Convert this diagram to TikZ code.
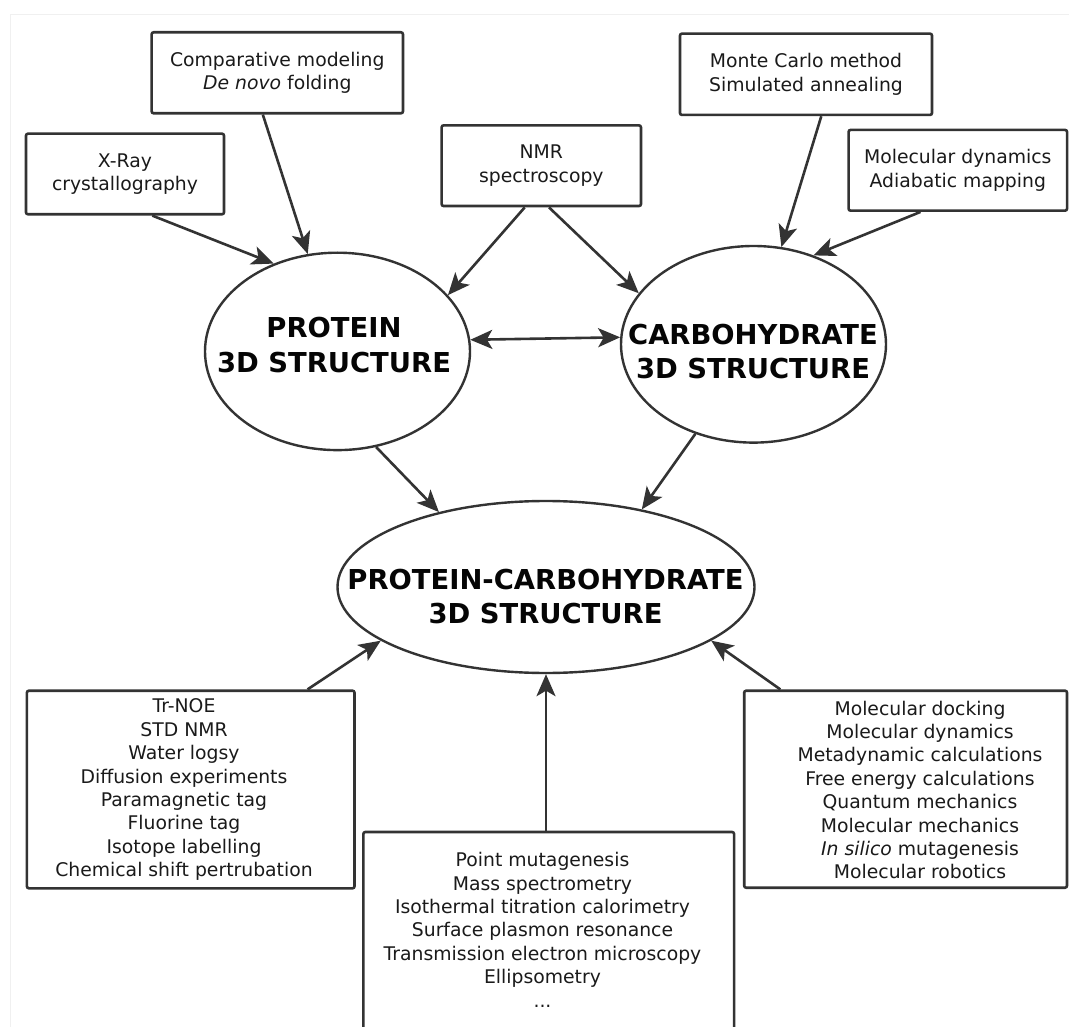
\documentclass[tikz,border=0pt]{standalone}
\usepackage{fontspec}
\setmainfont{DejaVu Sans}
\usetikzlibrary{arrows.meta,shapes.geometric,calc}
\definecolor{ln}{HTML}{333333}
\definecolor{tx}{HTML}{1A1A1A}
\definecolor{hdc}{HTML}{050505}
\definecolor{frm}{HTML}{F0F0F0}
\begin{document}
\begin{tikzpicture}[x=1pt,y=-1pt,
  box/.style={draw=ln, line width=2.6pt, rounded corners=2pt, inner sep=0pt, fill=white},
  txt/.style={text=tx, font=\fontsize{18.8}{23.4}\selectfont, align=center, inner sep=0pt},
  head/.style={text=hdc, font=\bfseries\fontsize{27.4}{34.2}\selectfont, align=center, inner sep=0pt},
  ell/.style={draw=ln, line width=2.4pt, ellipse, inner sep=0pt},
  tip/.tip={Stealth[length=22pt,width=19pt,inset=5.5pt]},
  arr/.style={draw=ln, line width=2.6pt, -tip},
  darr/.style={draw=ln, line width=2.6pt, tip-tip},
]
\path[use as bounding box, fill=white] (0,0) rectangle (1069,1027);
\clip (0,0) rectangle (1069,1027);
\draw[frm, line width=1pt] (10,1040) -- (10,15) -- (1080,15);

% top boxes
\node[box,txt,minimum width=251.3,minimum height=81] (comp) at (277.3,72.8)
  {Comparative modeling\\\textit{De novo} folding};
\node[box,txt,minimum width=198,minimum height=80.6] (xray) at (125,174)
  {X-Ray\\crystallography};
\node[box,txt,minimum width=199.3,minimum height=80.7] (nmr) at (541.3,165.7)
  {NMR\\spectroscopy};
\node[box,txt,minimum width=252,minimum height=81.3] (mc) at (806,74.3)
  {Monte Carlo method\\Simulated annealing};
\node[box,txt,minimum width=218.5,minimum height=80.7] (md) at (957.8,170.3)
  {Molecular dynamics\\Adiabatic mapping};

% ellipses
\node[ell,minimum width=265,minimum height=197.4] (prot) at (337.5,351.4) {};
\node[head] (protT) at (334,345) {PROTEIN\\3D STRUCTURE};
\node[ell,minimum width=265,minimum height=196.6] (carb) at (753.5,344.3) {};
\node[head] (carbT) at (753,351.3) {CARBOHYDRATE\\3D STRUCTURE};
\node[ell,minimum width=417,minimum height=172] (pc) at (546,587) {};
\node[head] (pcT) at (545.5,596.3) {PROTEIN-CARBOHYDRATE\\3D STRUCTURE};

% bottom boxes
\node[box,minimum width=327.6,minimum height=197.6] (lbox) at (190.7,789.5) {};
\node[txt] (ltext) at (184,789.8) {Tr-NOE\\STD NMR\\Water logsy\\Diffusion experiments\\Paramagnetic tag\\Fluorine tag\\Isotope labelling\\Chemical shift pertrubation};
\node[box,minimum width=370.7,minimum height=228] (mbox) at (548.7,946) {};
\node[txt] (mtext) at (542.5,929.8) {Point mutagenesis\\Mass spectrometry\\Isothermal titration calorimetry\\Surface plasmon resonance\\Transmission electron microscopy\\Ellipsometry\\...};
\node[box,minimum width=322.8,minimum height=197] (rbox) at (905.6,789.2) {};
\node[txt] (rtext) at (920,790) {Molecular docking\\Molecular dynamics\\Metadynamic calculations\\Free energy calculations\\Quantum mechanics\\Molecular mechanics\\\textit{In silico} mutagenesis\\Molecular robotics};

% connectors
\draw[arr] ($(xray.south west)!0.636!(xray.south east)$) -- (prot.126);
\draw[arr] ($(comp.south west)!0.443!(comp.south east)$) -- (prot.107);
\draw[arr] ($(nmr.south west)!0.418!(nmr.south east)$) -- (prot.27);
\draw[arr] ($(nmr.south west)!0.538!(nmr.south east)$) -- (carb.156.7);
\draw[arr] ($(mc.south west)!0.56!(mc.south east)$) -- (carb.74.7);
\draw[arr] ($(md.south west)!0.331!(md.south east)$) -- (carb.56.2);
\draw[darr] (prot.5.4) -- (carb.177.7);
\draw[arr] (prot.-68.5) -- (pc.145.9);
\draw[arr] (carb.-123.1) -- (pc.39.4);
\draw[arr] ($(lbox.north west)!0.854!(lbox.north east)$) -- (pc.198.2);
\draw[arr] (pc.south |- mbox.north) -- (pc.south);
\draw[arr] ($(rbox.north west)!0.115!(rbox.north east)$) -- (pc.-18.4);
\end{tikzpicture}
\end{document}
